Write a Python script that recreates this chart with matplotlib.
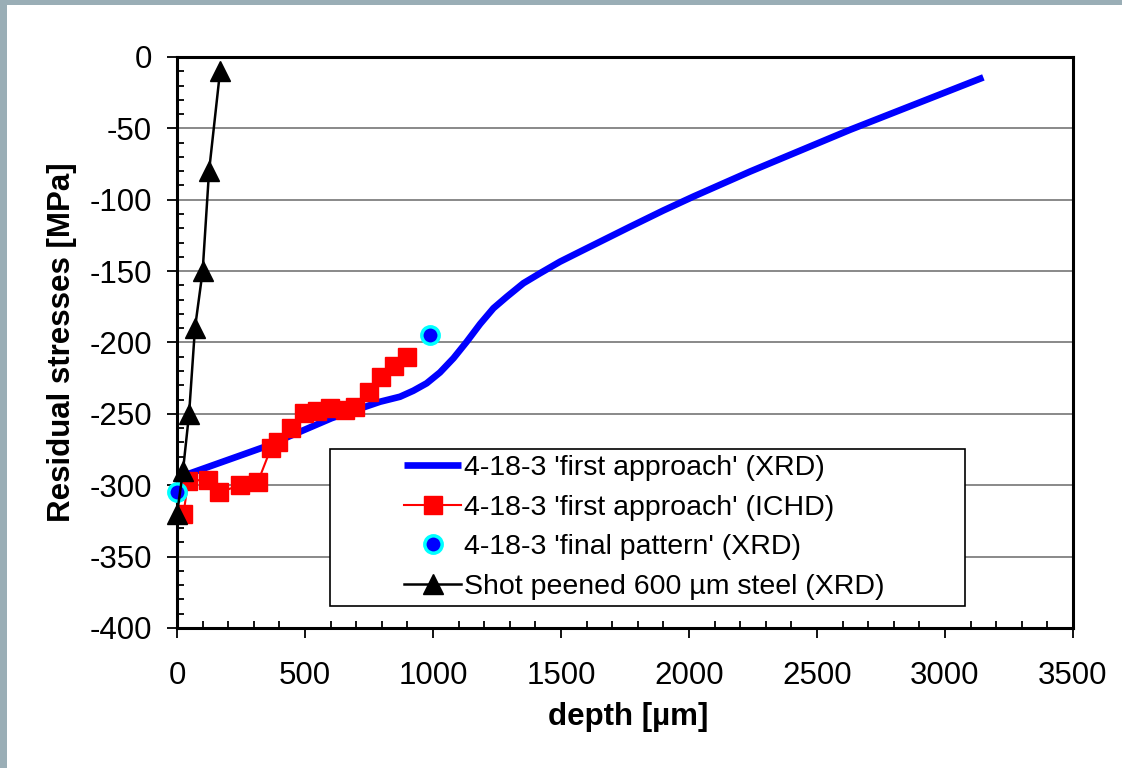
import matplotlib
matplotlib.use("Agg")
import matplotlib.pyplot as plt
from matplotlib.patches import Rectangle
from matplotlib.ticker import MultipleLocator

# ===================== Data =====================
# 4-18-3 'first approach' (XRD) - smooth curve
xrd_depth = [30, 344, 604, 793, 871, 923, 975, 1027, 1080, 1132, 1184, 1236, 1288,
             1353, 1418, 1496, 1574, 1770, 1900, 2017, 2238, 2629, 3150]
xrd_stress = [-293, -273, -253, -241.5, -238, -233.8, -228.6, -221, -211, -199.4, -187,
              -176, -168, -158.5, -151.5, -143.4, -136.4, -118.9, -107.5, -97.8, -80.3,
              -51, -14.3]

# 4-18-3 'first approach' (ICHD)
ichd_depth = [25, 44, 122, 165, 246, 315, 367, 396, 445, 497, 546, 598,
              656, 695, 748, 797, 849, 897]
ichd_stress = [-320, -297, -296, -305, -300, -298, -274, -269.5, -260, -249.5, -248, -246,
               -247, -245, -234.5, -224, -216.5, -210]

# 4-18-3 'final pattern' (XRD)
final_depth = [0, 990]
final_stress = [-305, -195]

# Shot peened 600 um steel (XRD)
shot_depth = [0, 23, 47, 70, 100, 125, 168]
shot_stress = [-320, -290, -250, -190, -150, -80, -10]

labels = ["4-18-3 'first approach' (XRD)",
          "4-18-3 'first approach' (ICHD)",
          "4-18-3 'final pattern' (XRD)",
          "Shot peened 600 \u00b5m steel (XRD)"]

# ===================== Plot =====================
plt.rcParams.update({
    'font.family': ['Liberation Sans', 'DejaVu Sans'],
    'font.size': 22,
    'axes.unicode_minus': False,
})

fig = plt.figure(figsize=(11.22, 7.68), dpi=100)
fig.patch.set_facecolor('white')
# grey-blue frame on the left and top edges
fig.patches.append(Rectangle((0, 0), 7 / 1122, 1, transform=fig.transFigure,
                             facecolor='#9aaeb6', edgecolor='none', zorder=0))
fig.patches.append(Rectangle((0, 1 - 5 / 768), 1, 5 / 768, transform=fig.transFigure,
                             facecolor='#9aaeb6', edgecolor='none', zorder=0))

ax = fig.add_axes([0.1578, 0.1823, 0.7985, 0.7435])

ax.plot(xrd_depth, xrd_stress, color='#0000ff', linewidth=4.8, label=labels[0],
        solid_capstyle='butt', solid_joinstyle='round', zorder=4)
ax.plot(ichd_depth, ichd_stress, color='#ff0000', linewidth=1.5, marker='s',
        markersize=13, markeredgecolor='#ff0000', label=labels[1], zorder=5)
ax.plot(final_depth, final_stress, linestyle='none', marker='o', markersize=12.5,
        markerfacecolor='#0000ff', markeredgecolor='#00ffff', markeredgewidth=2.5,
        label=labels[2], zorder=6, clip_on=False)
ax.plot(shot_depth, shot_stress, color='black', linewidth=1.8, marker='^',
        markersize=15, label=labels[3], zorder=7, clip_on=False)

ax.set_xlim(0, 3500)
ax.set_ylim(-400, 0)
ax.xaxis.set_major_locator(MultipleLocator(500))
ax.xaxis.set_minor_locator(MultipleLocator(100))
ax.yaxis.set_major_locator(MultipleLocator(50))
ax.yaxis.set_minor_locator(MultipleLocator(10))

ax.tick_params(which='major', direction='out', length=7, width=1.3, color='black')
ax.tick_params(which='minor', direction='in', length=5, width=1.3, color='black')
ax.tick_params(axis='x', which='major', pad=17, labelsize=22.5)
ax.tick_params(axis='y', which='major', pad=11, labelsize=22.5)

ax.grid(True, axis='y', which='major', color='#808080', linewidth=1.3, zorder=1)
ax.set_axisbelow(True)
for sp in ax.spines.values():
    sp.set_linewidth(2.2)
    sp.set_color('black')

ax.set_xlabel("depth [\u00b5m]", fontsize=22.5, fontweight='bold')
ax.set_ylabel("Residual stresses [MPa]", fontsize=22.5, fontweight='bold')
ax.xaxis.set_label_coords(0.504, -0.13)
ax.yaxis.set_label_coords(-0.112, 0.5)

# legend box
box = Rectangle((0.1708, 0.0385), 0.7087, 0.275, transform=ax.transAxes,
                facecolor='white', edgecolor='black', linewidth=1.2, zorder=3)
ax.add_patch(box)
leg = ax.legend(loc='center', bbox_to_anchor=(0.5218, 0.176), frameon=False,
                fontsize=20.5, handlelength=2.0, handletextpad=0.1, labelspacing=0.48)
leg.set_zorder(8)

fig.savefig("out.png", dpi=100)
